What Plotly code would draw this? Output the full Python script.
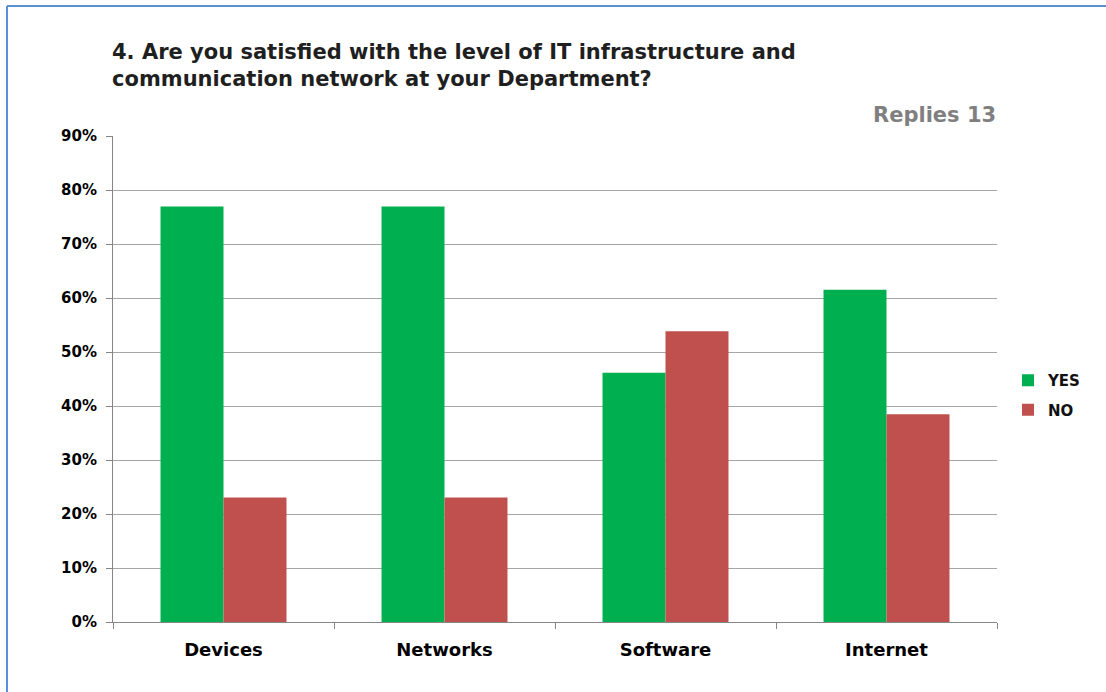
import plotly.graph_objects as go

# Survey: 13 replies per topic
categories = ["Devices", "Networks", "Software", "Internet"]
yes_share = [10 / 13, 10 / 13, 6 / 13, 8 / 13]
no_share = [3 / 13, 3 / 13, 7 / 13, 5 / 13]
y_ticks = [0, 0.1, 0.2, 0.3, 0.4, 0.5, 0.6, 0.7, 0.8, 0.9]
y_tick_text = ["0%", "10%", "20%", "30%", "40%", "50%", "60%", "70%", "80%", "90%"]

FONT = "DejaVu Sans, Verdana, sans-serif"
W, H = 1106, 692
L, R, T, B = 113, 109, 136, 70
PW, PH = W - L - R, H - T - B


def px_x(p):
    return (p - L) / PW


def px_y(p):
    return (H - B - p) / PH


fig = go.Figure()
fig.add_bar(name="YES", x=categories, y=yes_share, marker_color="#00b050",
            marker_line_width=0, legendgroup="yes")
fig.add_bar(name="NO", x=categories, y=no_share, marker_color="#c0504d",
            marker_line_width=0, legendgroup="no")

fig.update_layout(
    width=W, height=H,
    margin=dict(l=L, r=R, t=T, b=B),
    paper_bgcolor="white", plot_bgcolor="white",
    barmode="group", bargap=0.43, bargroupgap=0,
    font=dict(family=FONT, color="#000000"),
    showlegend=True,
    legend=dict(x=px_x(1008), y=px_y(364), xanchor="left", yanchor="top",
                font=dict(family=FONT, size=15, color="#111111", weight="bold"),
                itemwidth=30, tracegroupgap=7, bgcolor="rgba(0,0,0,0)"),
    xaxis=dict(showline=True, linecolor="#868686", linewidth=1,
               ticks="outside", tickson="boundaries", ticklen=6,
               tickcolor="#868686", ticklabelstandoff=11,
               tickfont=dict(family=FONT, size=18, color="#000000", weight="bold"),
               showgrid=False),
    yaxis=dict(range=[0, 0.9], tickvals=y_ticks, ticktext=y_tick_text,
               showline=True, linecolor="#868686", linewidth=1,
               ticks="outside", ticklen=6, tickcolor="#868686",
               ticklabelstandoff=6,
               showgrid=True, gridcolor="#a6a6a6", gridwidth=1,
               zeroline=False,
               tickfont=dict(family=FONT, size=15, color="#000000", weight="bold")),
)

fig.add_annotation(
    text="4. Are you satisfied with the level of IT infrastructure and<br>communication network at your Department?",
    xref="paper", yref="paper", x=px_x(110), y=px_y(38),
    xanchor="left", yanchor="top", align="left", showarrow=False,
    font=dict(family=FONT, size=21, color="#1f1f1f", weight="bold"),
)
fig.add_annotation(
    text="Replies 13", xref="paper", yref="paper", x=px_x(998), y=px_y(115),
    xanchor="right", yanchor="middle", showarrow=False,
    font=dict(family=FONT, size=21, color="#7f7f7f", weight="bold"),
)

# frame along the top and left edges
fig.add_shape(type="line", xref="paper", yref="paper",
              x0=px_x(7), y0=px_y(6), x1=px_x(W + 5), y1=px_y(6),
              line=dict(color="#5b8fd9", width=2))
fig.add_shape(type="line", xref="paper", yref="paper",
              x0=px_x(7), y0=px_y(6), x1=px_x(7), y1=px_y(H + 5),
              line=dict(color="#5b8fd9", width=2))

fig.write_html("out.html")
